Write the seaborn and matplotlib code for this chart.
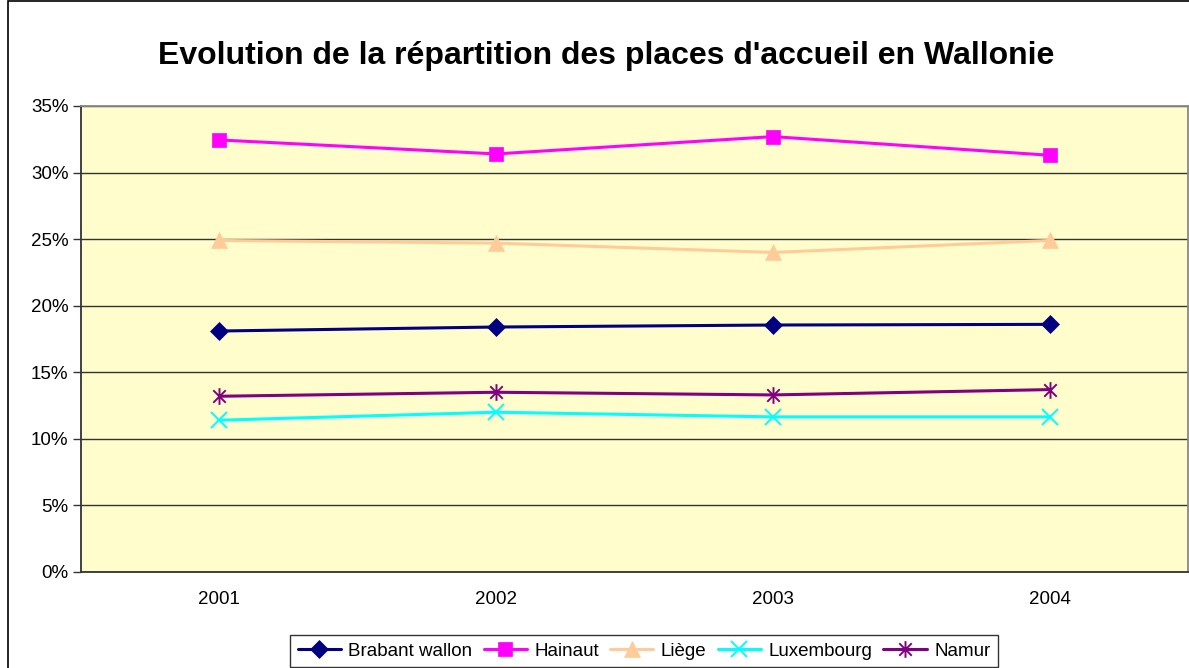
import matplotlib
matplotlib.use("Agg")
import matplotlib.pyplot as plt
import matplotlib.ticker as mticker
from matplotlib.patches import Rectangle
from matplotlib.path import Path
import pandas as pd
import seaborn as sns

sns.set_theme(style="white")
plt.rcParams['font.family'] = ['Liberation Sans', 'DejaVu Sans']
plt.rcParams['text.color'] = 'black'

years = ["2001", "2002", "2003", "2004"]
provinces = ["Brabant wallon", "Hainaut", "Liège", "Luxembourg", "Namur"]
brabant = [0.181, 0.184, 0.1855, 0.186]
hainaut = [0.3245, 0.314, 0.327, 0.313]
liege = [0.249, 0.247, 0.240, 0.249]
luxembourg = [0.114, 0.120, 0.1165, 0.1165]
namur = [0.132, 0.135, 0.133, 0.137]

# Excel-style star: an "x" with a vertical bar through it
star = Path([(0, -1), (0, 1), (-0.75, -0.75), (0.75, 0.75), (-0.75, 0.75), (0.75, -0.75)],
            [Path.MOVETO, Path.LINETO] * 3)

colors = ["#000080", "#FF00FF", "#FFCC99", "#00FFFF", "#800080"]
markers = ["D", "s", "^", "x", star]
msizes = [9.5, 10.5, 12, 11, 12]

series = [brabant, hainaut, liege, luxembourg, namur]
rows = []
for name, vals in zip(provinces, series):
    for i, v in enumerate(vals):
        rows.append({"pos": i, "year": years[i], "province": name, "share": v})
df = pd.DataFrame(rows)

fig = plt.figure(figsize=(11.89, 6.68), dpi=100)
ax = fig.add_axes([81 / 1189, 1 - 572 / 668, 1107 / 1189, 466 / 668])
ax.set_facecolor("#FFFDCC")

for name, col, mk, ms in zip(provinces, colors, markers, msizes):
    sub = df[df["province"] == name]
    thin = isinstance(mk, Path) or mk == "x"
    sns.lineplot(data=sub, x="pos", y="share", ax=ax, color=col, marker=mk,
                 markersize=ms, linewidth=2.2, label=name,
                 markeredgecolor=col, markerfacecolor=col,
                 markeredgewidth=1.4 if thin else 0.5)

ax.set_xlim(-0.5, 3.5)
ax.set_ylim(0, 0.35)
ax.yaxis.set_major_locator(mticker.MultipleLocator(0.05))
ax.yaxis.set_major_formatter(mticker.PercentFormatter(1.0, decimals=0))
ax.set_xticks(range(4))
ax.set_xticklabels(years)
ax.set_xticks([-0.5, 0.5, 1.5, 2.5, 3.5], minor=True)
ax.tick_params(axis="x", which="major", length=0, pad=14, labelsize=13.5, labelcolor="black")
ax.tick_params(axis="x", which="minor", length=6, width=1, color="#333333", direction="out")
ax.tick_params(axis="y", which="major", length=6, width=1, color="#333333", direction="out",
               labelsize=13.5, pad=3, left=True, labelcolor="black")
ax.grid(axis="y", color="#333333", linewidth=1)
ax.set_xlabel("")
ax.set_ylabel("")
for s in ["left", "bottom"]:
    ax.spines[s].set_color("#333333")
    ax.spines[s].set_linewidth(1.3)
for s in ["top", "right"]:
    ax.spines[s].set_color("#888888")
    ax.spines[s].set_linewidth(1.3)

handles, labels = ax.get_legend_handles_labels()
ax.get_legend().remove()
leg = fig.legend(handles, labels, loc="upper center", bbox_to_anchor=(644 / 1189, 1 - 635 / 668),
                 ncol=5, frameon=True, fancybox=False, fontsize=13.5, handlelength=2.3,
                 handletextpad=0.4, columnspacing=0.6, borderpad=0.4, borderaxespad=0,
                 labelcolor="black")
leg.get_frame().set_edgecolor("black")
leg.get_frame().set_linewidth(1.0)

fig.text(606 / 1189, 1 - 56 / 668, "Evolution de la répartition des places d'accueil en Wallonie",
         ha="center", va="center", fontsize=23, fontweight="bold", color="black")

fig.patches.append(Rectangle((8 / 1189, -0.1), 1.2, 1.1 - 1 / 668, transform=fig.transFigure,
                             fill=False, edgecolor="black", linewidth=1.2, zorder=0))

fig.savefig("out.png", dpi=100)
